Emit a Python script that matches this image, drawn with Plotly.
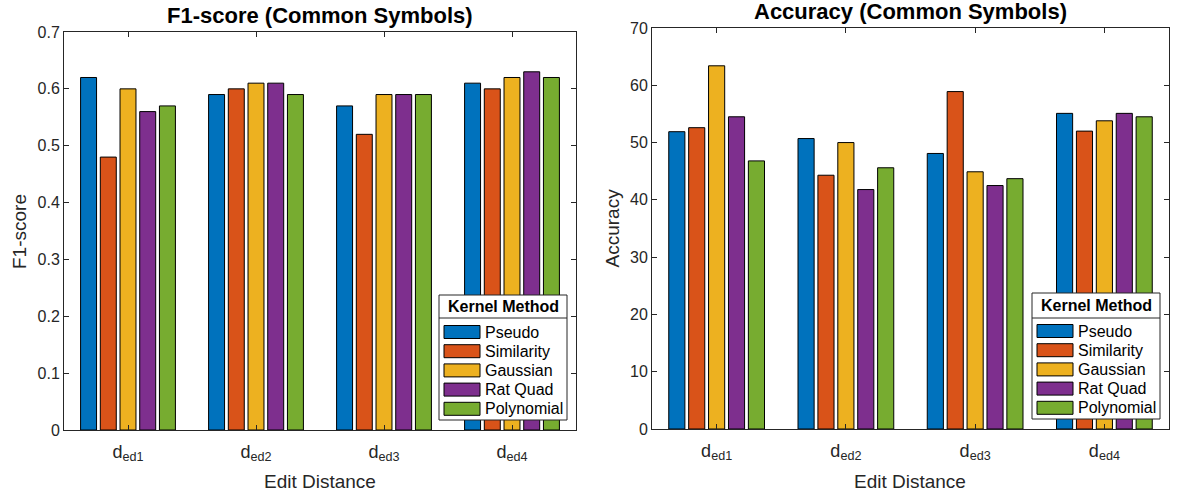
import plotly.graph_objects as go

# Edit-distance groups and kernel methods
categories = ["d<sub>ed1</sub>", "d<sub>ed2</sub>", "d<sub>ed3</sub>", "d<sub>ed4</sub>"]
methods = ["Pseudo", "Similarity", "Gaussian", "Rat Quad", "Polynomial"]
colors = ["#0072BD", "#D95319", "#EDB120", "#7E2F8E", "#77AC30"]

# F1-score per method (one value per edit distance)
f1_pseudo = [0.62, 0.59, 0.57, 0.61]
f1_similarity = [0.48, 0.60, 0.52, 0.60]
f1_gaussian = [0.60, 0.61, 0.59, 0.62]
f1_ratquad = [0.56, 0.61, 0.59, 0.63]
f1_polynomial = [0.57, 0.59, 0.59, 0.62]

# Accuracy (%) per method
acc_pseudo = [51.9, 50.7, 48.1, 55.1]
acc_similarity = [52.6, 44.3, 58.9, 52.0]
acc_gaussian = [63.4, 50.0, 44.9, 53.8]
acc_ratquad = [54.5, 41.8, 42.5, 55.1]
acc_polynomial = [46.8, 45.6, 43.7, 54.5]

f1_tick_vals = [0, 0.1, 0.2, 0.3, 0.4, 0.5, 0.6, 0.7]
f1_tick_text = ["0", "0.1", "0.2", "0.3", "0.4", "0.5", "0.6", "0.7"]
acc_tick_vals = [0, 10, 20, 30, 40, 50, 60, 70]

f1_series = [f1_pseudo, f1_similarity, f1_gaussian, f1_ratquad, f1_polynomial]
acc_series = [acc_pseudo, acc_similarity, acc_gaussian, acc_ratquad, acc_polynomial]

W, H = 1182, 496
FONT = "Liberation Sans, Arial, Helvetica, sans-serif"
AX = "#262626"

fig = go.Figure()

for name, col, vals in zip(methods, colors, f1_series):
    fig.add_trace(go.Bar(x=categories, y=vals, name=name, marker=dict(color=col, line=dict(color="#000000", width=1)),
                         xaxis="x", yaxis="y", showlegend=False))
for name, col, vals in zip(methods, colors, acc_series):
    fig.add_trace(go.Bar(x=categories, y=vals, name=name, marker=dict(color=col, line=dict(color="#000000", width=1)),
                         xaxis="x2", yaxis="y2", showlegend=False))

# panel rectangles in pixels: (left, right, top, bottom)
panels = [(64, 576, 32, 430), (652, 1169, 28, 429)]


def px_x(x):
    return x / W


def px_y(y):
    return 1 - y / H


axis_common = dict(showline=True, linecolor=AX, linewidth=1, mirror="ticks", ticks="inside",
                   tickcolor=AX, ticklen=5, tickwidth=1, showgrid=False, zeroline=False,
                   automargin=False, layer="above traces")
y_font = dict(family=FONT, size=16, color=AX)
x_font = dict(family=FONT, size=18, color=AX)

(l1, r1, t1, b1), (l2, r2, t2, b2) = panels
fig.update_layout(
    width=W, height=H,
    margin=dict(l=0, r=0, t=0, b=0, autoexpand=False),
    paper_bgcolor="white", plot_bgcolor="white",
    barmode="group", bargap=0.23, bargroupgap=0.19,
    font=dict(family=FONT, color=AX),
    xaxis=dict(domain=[px_x(l1), px_x(r1)], anchor="y", type="category", categoryorder="array",
               categoryarray=categories, tickfont=x_font, ticklabelstandoff=5, **axis_common),
    yaxis=dict(domain=[px_y(b1), px_y(t1)], anchor="x", range=[0, 0.7], tickvals=f1_tick_vals,
               ticktext=f1_tick_text, tickfont=y_font, **axis_common),
    xaxis2=dict(domain=[px_x(l2), px_x(r2)], anchor="y2", type="category", categoryorder="array",
                categoryarray=categories, tickfont=x_font, ticklabelstandoff=5, **axis_common),
    yaxis2=dict(domain=[px_y(b2), px_y(t2)], anchor="x2", range=[0, 70], tickvals=acc_tick_vals,
                tickfont=y_font, **axis_common),
)

annotations = []
shapes = []

# titles and axis labels
for (l, r, t, b), title, ylab, ylab_x, title_y in [
        (panels[0], "F1-score (Common Symbols)", "F1-score", 19, 15),
        (panels[1], "Accuracy (Common Symbols)", "Accuracy", 612, 12)]:
    cx = (l + r) / 2
    annotations.append(dict(x=px_x(cx), y=px_y(title_y), xref="paper", yref="paper", text="<b>%s</b>" % title,
                            showarrow=False, font=dict(family=FONT, size=22, color="#000000"),
                            xanchor="center", yanchor="middle"))
    annotations.append(dict(x=px_x(cx), y=px_y(481), xref="paper", yref="paper", text="Edit Distance",
                            showarrow=False, font=dict(family=FONT, size=19, color=AX),
                            xanchor="center", yanchor="middle"))
    annotations.append(dict(x=px_x(ylab_x), y=px_y((t + b) / 2), xref="paper", yref="paper", text=ylab,
                            showarrow=False, textangle=-90, font=dict(family=FONT, size=19, color=AX),
                            xanchor="center", yanchor="middle"))

# legends (box with bold title and a separator line)
legend_boxes = [
    dict(x0=439, x1=567, y0=295, y1=420, sep=318, sw0=444, sw1=480, first=332),
    dict(x0=1032, x1=1160, y0=293, y1=419, sep=318, sw0=1037, sw1=1073, first=331),
]
for lg in legend_boxes:
    shapes.append(dict(type="rect", xref="paper", yref="paper", x0=px_x(lg["x0"]), x1=px_x(lg["x1"]),
                       y0=px_y(lg["y1"]), y1=px_y(lg["y0"]), line=dict(color=AX, width=1),
                       fillcolor="white", layer="above"))
    shapes.append(dict(type="line", xref="paper", yref="paper", x0=px_x(lg["x0"]), x1=px_x(lg["x1"]),
                       y0=px_y(lg["sep"]), y1=px_y(lg["sep"]), line=dict(color=AX, width=1), layer="above"))
    annotations.append(dict(x=px_x((lg["x0"] + lg["x1"]) / 2), y=px_y((lg["y0"] + lg["sep"]) / 2),
                            xref="paper", yref="paper", text="<b>Kernel Method</b>", showarrow=False,
                            font=dict(family=FONT, size=16, color="#000000"), xanchor="center",
                            yanchor="middle"))
    for i, (name, col) in enumerate(zip(methods, colors)):
        cy = lg["first"] + i * 19.2
        shapes.append(dict(type="rect", xref="paper", yref="paper", x0=px_x(lg["sw0"]), x1=px_x(lg["sw1"]),
                           y0=px_y(cy + 6.5), y1=px_y(cy - 6.5), line=dict(color="#000000", width=1),
                           fillcolor=col, layer="above"))
        annotations.append(dict(x=px_x(lg["sw1"] + 3), y=px_y(cy), xref="paper", yref="paper", text=name,
                                showarrow=False, font=dict(family=FONT, size=16, color="#000000"),
                                xanchor="left", yanchor="middle"))

fig.update_layout(annotations=annotations, shapes=shapes)
fig.write_html("out.html")
